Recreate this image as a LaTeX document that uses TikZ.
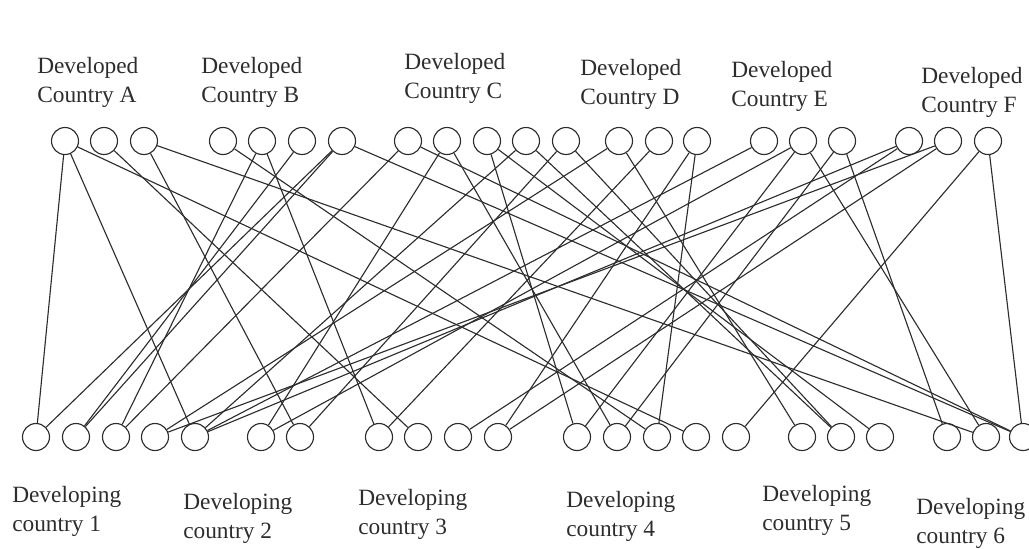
\documentclass[tikz,border=0pt]{standalone}
\usepackage{fontspec}
\setmainfont{Liberation Serif}
\usepackage{tikz}
\usetikzlibrary{positioning}
\definecolor{inkgray}{RGB}{45,45,45}
\tikzstyle{nation} = [circle, draw=inkgray, line width=0.8pt, minimum size=0.675cm, inner sep=0pt]
\tikzstyle{tie} = [draw=inkgray, line width=0.8pt]
\tikzstyle{caption} = [anchor=west, align=left, inner sep=0pt, text=inkgray, font=\fontsize{16.6}{20.6}\selectfont]

\begin{document}
\begin{tikzpicture}[x=0.025cm, y=-0.025cm]
\useasboundingbox (0,0) rectangle (1029,548);

% developed countries (top row)
\foreach \n/\x in {A1/65, A2/104, A3/144, B1/223, B2/262, B3/302, B4/342,
  C1/408, C2/447, C3/487, C4/526, C5/566, D1/619, D2/659, D3/697,
  E1/764, E2/803, E3/842, F1/909, F2/948, F3/988}
  \node[nation] (\n) at (\x,141) {};

% developing countries (bottom row)
\foreach \n/\x in {d1a/36, d1b/76, d1c/116, d1d/155, d1e/195, d2a/261, d2b/300,
  d3a/379, d3b/418, d3c/458, d3d/498, d4a/577, d4b/617, d4c/657, d4d/696, d4e/736,
  d5a/802, d5b/841, d5c/880, d6a/947, d6b/986, d6c/1023}
  \node[nation] (\n) at (\x,437) {};

\node[caption] (capA) at (37,82) {Developed\\Country A};
\node[caption] (capB) at (201,82) {Developed\\Country B};
\node[caption] (capC) at (404,78) {Developed\\Country C};
\node[caption] (capD) at (580,84) {Developed\\Country D};
\node[caption] (capE) at (731,86) {Developed\\Country E};
\node[caption] (capF) at (921,92) {Developed\\Country F};

\node[caption] (cap1) at (12,511) {Developing\\country 1};
\node[caption] (cap2) at (183,518) {Developing\\country 2};
\node[caption] (cap3) at (358,514) {Developing\\country 3};
\node[caption] (cap4) at (566,516) {Developing\\country 4};
\node[caption] (cap5) at (762,510) {Developing\\country 5};
\node[caption] (cap6) at (916,523) {Developing\\country 6};

% links
\foreach \u/\v in {A1/d1a, A1/d1e, A1/d4d, A2/d3b, A3/d2b, A3/d6b,
  B1/d4c, B2/d1c, B2/d3a, B3/d1b, B4/d1a, B4/d1b, B4/d6c,
  C1/d1c, C1/d6c, C2/d2a, C2/d4b, C3/d4a, C3/d5c, C4/d5b, C4/d1e,
  C5/d2b, C5/d5b, D1/d1d, D1/d5a, D2/d3a, D3/d4c, D3/d3d,
  E1/d1e, E2/d2a, E2/d4a, E2/d6b, E3/d4b, E3/d6a,
  F1/d1e, F1/d3c, F2/d1d, F2/d3d, F3/d4e, F3/d6c}
  \draw[tie] (\u) -- (\v);
\end{tikzpicture}
\end{document}
